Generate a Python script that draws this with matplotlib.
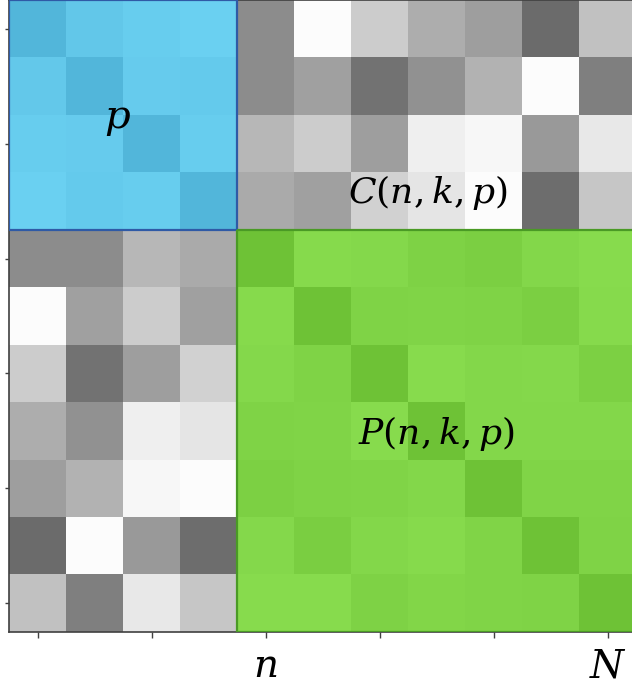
import numpy as np
import matplotlib
matplotlib.use("Agg")
import matplotlib.pyplot as plt
from matplotlib.colors import LinearSegmentedColormap
from matplotlib.patches import Rectangle

plt.rcParams['mathtext.fontset'] = 'dejavuserif'

# bloco p (4x4): intensidade 0 = claro, 1 = escuro
bloco_p = [
    [1.00, 0.40, 0.20, 0.10],
    [0.35, 1.00, 0.25, 0.30],
    [0.20, 0.25, 1.00, 0.20],
    [0.10, 0.30, 0.20, 1.00],
]

# bloco C(n,k,p) (4 linhas x 7 colunas), tons de cinza 0 = preto, 1 = branco
bloco_c = [
    [0.55, 0.99, 0.80, 0.68, 0.62, 0.42, 0.76],
    [0.55, 0.63, 0.45, 0.57, 0.70, 0.99, 0.50],
    [0.72, 0.80, 0.62, 0.94, 0.97, 0.60, 0.91],
    [0.67, 0.63, 0.82, 0.90, 0.99, 0.43, 0.78],
]

# bloco P(n,k,p) (7x7): intensidade 0 = claro, 1 = escuro
bloco_pp = [
    [1.00, 0.10, 0.15, 0.40, 0.50, 0.20, 0.05],
    [0.10, 1.00, 0.35, 0.30, 0.35, 0.50, 0.10],
    [0.15, 0.35, 1.00, 0.05, 0.20, 0.15, 0.45],
    [0.35, 0.30, 0.05, 1.00, 0.20, 0.20, 0.20],
    [0.45, 0.35, 0.30, 0.20, 1.00, 0.30, 0.30],
    [0.15, 0.55, 0.20, 0.10, 0.30, 1.00, 0.35],
    [0.05, 0.05, 0.40, 0.25, 0.30, 0.35, 1.00],
]

ticks = [0, 2, 4, 6, 8, 10]
rotulos_x = ['', '', r'$n$', '', '', r'$N$']

cmap_azul = LinearSegmentedColormap.from_list('azul', ['#6dd3f4', '#52b6da'])
cmap_verde = LinearSegmentedColormap.from_list('verde', ['#89dd4f', '#6ec236'])

k = len(bloco_p)
m = len(bloco_pp)
tamanho = k + m

img = np.zeros((tamanho, tamanho, 3))
img[:k, :k] = cmap_azul(np.array(bloco_p))[..., :3]
cinza = np.array(bloco_c)
img[:k, k:] = np.repeat(cinza[..., None], 3, axis=2)
img[k:, :k] = np.repeat(cinza.T[..., None], 3, axis=2)
img[k:, k:] = cmap_verde(np.array(bloco_pp))[..., :3]

fig = plt.figure(figsize=(6.32, 6.96), dpi=100)
ax = fig.add_axes([9 / 632, 64 / 696, 627 / 632, 632 / 696])
ax.imshow(img, interpolation='nearest', aspect='auto')

ax.add_patch(Rectangle((-0.5, -0.5), k, k, fill=False, edgecolor='#2f5aa6', linewidth=1.6, zorder=3))
ax.add_patch(Rectangle((k - 0.5, k - 0.5), m, m, fill=False, edgecolor='#4a9a25', linewidth=1.6, zorder=3))

ax.text(1.4, 1.55, r'$p$', fontsize=29, ha='center', va='center')
ax.text(6.85, 2.85, r'$C(n,k,p)$', fontsize=26, ha='center', va='center')
ax.text(7.0, 7.05, r'$P(n,k,p)$', fontsize=26, ha='center', va='center')

ax.set_xlim(-0.5, tamanho - 0.5)
ax.set_ylim(tamanho - 0.5, -0.5)
ax.set_xticks(ticks)
ax.set_xticklabels(rotulos_x, fontsize=28)
ax.set_yticks(ticks)
ax.set_yticklabels([])
ax.tick_params(axis='x', length=4, width=1, color='#404040', pad=7)
ax.tick_params(axis='y', length=3, width=1, color='#404040')
for s in ax.spines.values():
    s.set_color('#404040')
    s.set_linewidth(1.2)

fig.savefig('out.png', dpi=100)
